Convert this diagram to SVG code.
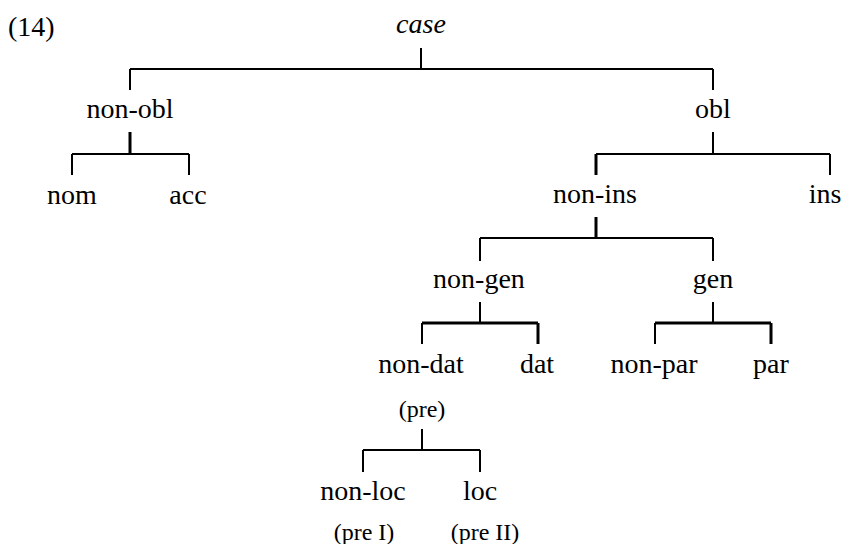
<svg xmlns="http://www.w3.org/2000/svg" width="845" height="544" viewBox="0 0 845 544" font-family="'Liberation Serif', 'Times New Roman', serif">
<style>
text{font-family:'Liberation Serif','Times New Roman',serif;fill:#000;text-anchor:middle}
.n{font-size:28px}
.s{font-size:24px}
.i{font-style:italic}
#edges path{fill:none;stroke:#000;stroke-width:2}
#edges path.t{stroke-width:3}
</style>
<rect width="845" height="544" fill="#fff"/>
<text class="n" x="8" y="36" style="text-anchor:start">(14)</text>
<g id="edges">
<path d="M421,48V69M130,69H713M130,69V90M713,69V90"/>
<path class="t" d="M130,132V154"/>
<path d="M72,154H189M72,154V175M189,154V175"/>
<path d="M713,132V154M596,154H830M830,154V175"/>
<path class="t" d="M596,154V175"/>
<path class="t" d="M596,217V238"/>
<path d="M480,238H713M480,238V261M713,238V261"/>
<path d="M480,302V323M422,323V344"/>
<path class="t" d="M422,323H538M538,323V344"/>
<path d="M713,302V323M655,323V344"/>
<path class="t" d="M655,323H771M771,323V344"/>
<path d="M422,429V450M363,450H480M363,450V472M480,450V472"/>
</g>
<g id="case"><text class="n i" x="421" y="33">case</text></g>
<g id="non-obl"><text class="n" x="130" y="118">non-obl</text></g>
<g id="obl"><text class="n" x="713" y="118">obl</text></g>
<g id="nom"><text class="n" x="72" y="204">nom</text></g>
<g id="acc"><text class="n" x="188" y="204">acc</text></g>
<g id="non-ins"><text class="n" x="595" y="203">non-ins</text></g>
<g id="ins"><text class="n" x="825" y="203">ins</text></g>
<g id="non-gen"><text class="n" x="479" y="288">non-gen</text></g>
<g id="gen"><text class="n" x="713" y="288">gen</text></g>
<g id="non-dat"><text class="n" x="421" y="373">non-dat</text><text class="s" x="422" y="417">(pre)</text></g>
<g id="dat"><text class="n" x="537" y="373">dat</text></g>
<g id="non-par"><text class="n" x="654" y="373">non-par</text></g>
<g id="par"><text class="n" x="771" y="373">par</text></g>
<g id="non-loc"><text class="n" x="363" y="500">non-loc</text><text class="s" x="364" y="540">(pre I)</text></g>
<g id="loc"><text class="n" x="480" y="500">loc</text><text class="s" x="485" y="540">(pre II)</text></g>
</svg>
